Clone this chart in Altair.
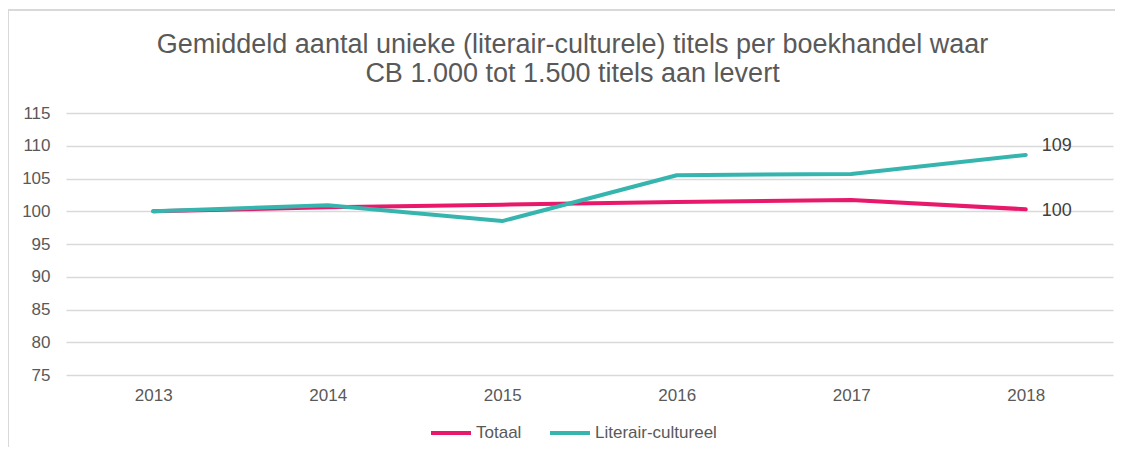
import altair as alt
import pandas as pd

years = ["2013", "2014", "2015", "2016", "2017", "2018"]
totaal = [100.0, 100.6, 101.0, 101.4, 101.7, 100.3]
literair = [100.0, 100.9, 98.5, 105.5, 105.7, 108.6]
series_names = ["Totaal", "Literair-cultureel"]
colors = ["#E8196A", "#36B5AF"]
y_ticks = [75, 80, 85, 90, 95, 100, 105, 110, 115]

rows = []
for name, vals in zip(series_names, [totaal, literair]):
    for y, v in zip(years, vals):
        rows.append({"jaar": y, "waarde": v, "reeks": name, "label": f"{round(v):d}"})
df = pd.DataFrame(rows)
last = df[df["jaar"] == years[-1]]

FONT = "Liberation Sans"
GRAY = "#595959"

x_enc = alt.X("jaar:O", title=None, sort=years,
              scale=alt.Scale(type="point", padding=0.5),
              axis=alt.Axis(labelAngle=0, domain=False, ticks=False, labelPadding=12,
                            labelFontSize=17, labelColor=GRAY, labelFont=FONT, grid=False))
y_enc = alt.Y("waarde:Q", title=None,
              scale=alt.Scale(domain=[75, 115], nice=False, zero=False),
              axis=alt.Axis(values=y_ticks, tickCount=9, domain=False, ticks=False,
                            labelPadding=16, labelOverlap=False,
                            labelFontSize=17, labelColor=GRAY, labelFont=FONT,
                            grid=True, gridColor="#d9d9d9", gridWidth=1.5))

frame = alt.Chart(pd.DataFrame({"a": [0]})).mark_rect(
    fill=None, stroke="#d9d9d9", strokeWidth=2
).encode(x=alt.value(-58), x2=alt.value(1300), y=alt.value(-103), y2=alt.value(600))

lines = alt.Chart(df).mark_line(strokeWidth=4, strokeCap="round", strokeJoin="round").encode(
    x=x_enc, y=y_enc,
    color=alt.Color("reeks:N", sort=series_names,
                    scale=alt.Scale(domain=series_names, range=colors),
                    legend=alt.Legend(title=None, orient="none", legendX=363, legendY=298,
                                      direction="horizontal", symbolType="stroke",
                                      symbolSize=1600, symbolStrokeWidth=4,
                                      labelFontSize=17, labelColor=GRAY, labelFont=FONT,
                                      labelOffset=3, columnPadding=20)),
)

lab_t = alt.Chart(last[last["reeks"] == "Totaal"]).mark_text(
    align="left", baseline="middle", dx=16, dy=2, fontSize=18, color="#404040", font=FONT
).encode(x=x_enc, y=y_enc, text="label:N")
lab_l = alt.Chart(last[last["reeks"] == "Literair-cultureel"]).mark_text(
    align="left", baseline="middle", dx=16, dy=-9, fontSize=18, color="#404040", font=FONT
).encode(x=x_enc, y=y_enc, text="label:N")

chart = alt.layer(frame, lines, lab_t, lab_l).properties(
    width=1047, height=262,
    autosize=alt.AutoSizeParams(type="none"),
    padding={"left": 58, "top": 105, "right": 2, "bottom": 72},
    title=alt.TitleParams(
        ["Gemiddeld aantal unieke (literair-culturele) titels per boekhandel waar",
         "CB 1.000 tot 1.500 titels aan levert"],
        fontSize=27, font=FONT, color=GRAY, fontWeight="normal",
        anchor="middle", frame="group", dx=-17, offset=-79, lineHeight=29),
).configure_view(stroke=None)

chart.save("out.html", embed_options={"renderer": "svg", "actions": False})
